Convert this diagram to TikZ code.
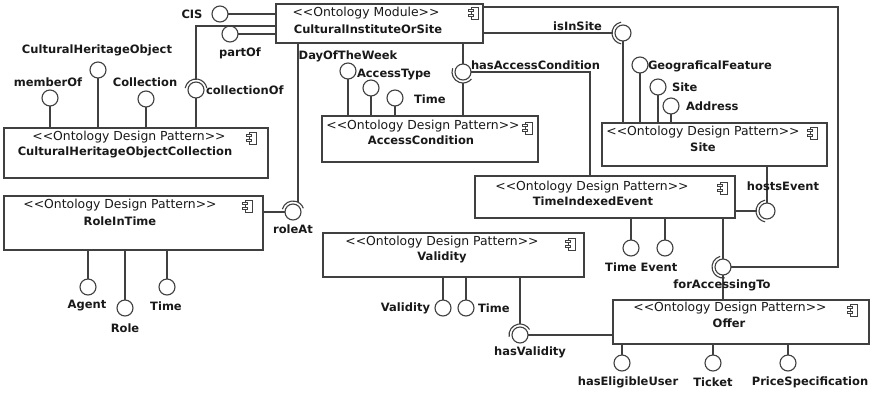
\documentclass[tikz,border=0pt]{standalone}
\usepackage{fontspec}
\setmainfont{DejaVu Sans}
\definecolor{lc}{RGB}{64,64,64}
\definecolor{tc}{RGB}{25,25,25}
\newcommand{\stereo}[1]{<\kern0pt<#1>\kern0pt>}
\tikzset{
  compicon/.pic={
    \draw[lc, line width=0.8pt, fill=white] (-3,-6) rectangle (4,6);
    \draw[lc, line width=0.8pt, fill=white] (-5.5,-3.8) rectangle (-1,-1.6);
    \draw[lc, line width=0.8pt, fill=white] (-5.5,1.6) rectangle (-1,3.8);
  }
}
\begin{document}
\begin{tikzpicture}[x=1pt,y=-1pt,
  every node/.style={inner sep=0pt, outer sep=0pt},
  box/.style={draw=lc, fill=white, line width=1.1pt, anchor=north west},
  ball/.style={circle, draw=lc, fill=white, minimum size=16pt, line width=1.1pt},
  lbl/.style={font=\bfseries\fontsize{11.5}{13}\selectfont, text=tc},
  ster/.style={font=\fontsize{12.4}{14}\selectfont, text=tc},
  nm/.style={font=\bfseries\fontsize{11.5}{13}\selectfont, text=tc},
  conn/.style={draw=lc, line width=1.1pt},
  sock/.style={draw=lc, line width=1.1pt},
]
\useasboundingbox[fill=white] (0,0) rectangle (873,392);

% ---------- boxes ----------
\node[box, minimum width=207pt, minimum height=39pt] (cios) at (276,4) {};
\node[box, minimum width=264pt, minimum height=50pt] (choc) at (4,128) {};
\node[box, minimum width=216pt, minimum height=46pt] (ac) at (322,116) {};
\node[box, minimum width=225pt, minimum height=43pt] (site) at (602,123) {};
\node[box, minimum width=259pt, minimum height=54pt] (rit) at (4,196) {};
\node[box, minimum width=260pt, minimum height=42pt] (tie) at (475,176) {};
\node[box, minimum width=261pt, minimum height=44pt] (val) at (323,233) {};
\node[box, minimum width=256pt, minimum height=44pt] (offer) at (613,300) {};

% ---------- box texts ----------
\node[ster] (ciosS) at (366,13) {\stereo{Ontology Module}};
\node[nm] (ciosN) at (368,29) {CulturalInstituteOrSite};
\node[ster] (chocS) at (129,137) {\stereo{Ontology Design Pattern}};
\node[nm] (chocN) at (125,152) {CulturalHeritageObjectCollection};
\node[ster] (acS) at (423,126) {\stereo{Ontology Design Pattern}};
\node[nm] (acN) at (421,140) {AccessCondition};
\node[ster] (siteS) at (703,132) {\stereo{Ontology Design Pattern}};
\node[nm] (siteN) at (703,147) {Site};
\node[ster] (ritS) at (120,205) {\stereo{Ontology Design Pattern}};
\node[nm] (ritN) at (120,221) {RoleInTime};
\node[ster] (tieS) at (592,187) {\stereo{Ontology Design Pattern}};
\node[nm] (tieN) at (593,201) {TimeIndexedEvent};
\node[ster] (valS) at (442,242) {\stereo{Ontology Design Pattern}};
\node[nm] (valN) at (442,257) {Validity};
\node[ster] (offerS) at (730,308) {\stereo{Ontology Design Pattern}};
\node[nm] (offerN) at (729,323) {Offer};

% ---------- component icons ----------
\pic at (474,13) {compicon};
\pic at (252,138) {compicon};
\pic at (528,128) {compicon};
\pic at (813,133) {compicon};
\pic at (248,206) {compicon};
\pic at (723,188) {compicon};
\pic at (571,244) {compicon};
\pic at (853,310) {compicon};

% ---------- balls ----------
\node[ball] (bCis) at (220,14) {};
\node[ball] (bPart) at (230,34) {};
\node[ball] (bMember) at (50,98) {};
\node[ball] (bCho) at (98,70) {};
\node[ball] (bCollection) at (146,99) {};
\node[ball] (bCollOf) at (196,90) {};
\node[ball] (bDotw) at (348,71) {};
\node[ball] (bAt) at (371,88) {};
\node[ball] (bTimeA) at (395,98) {};
\node[ball] (bHac) at (463,72) {};
\node[ball] (bIis) at (623,33) {};
\node[ball] (bGeo) at (640,65) {};
\node[ball] (bSite) at (658,87) {};
\node[ball] (bAddr) at (671,106) {};
\node[ball] (bHe) at (767,211) {};
\node[ball] (bTimeT) at (631,248) {};
\node[ball] (bEvent) at (665,248) {};
\node[ball] (bFat) at (723,267) {};
\node[ball] (bHeu) at (622,363) {};
\node[ball] (bTicket) at (713,363) {};
\node[ball] (bPrice) at (788,363) {};
\node[ball] (bVal) at (443,308) {};
\node[ball] (bTimeV) at (466,308) {};
\node[ball] (bHv) at (520,335) {};
\node[ball] (bAgent) at (88,287) {};
\node[ball] (bRole) at (125,308) {};
\node[ball] (bTimeR) at (167,287) {};
\node[ball] (bRa) at (293,212) {};

% ---------- sockets ----------
\draw[sock] ([shift={(170:11pt)}]bCollOf.center) arc[start angle=170, end angle=10, radius=11pt];
\draw[sock] ([shift={(160:11pt)}]bHac.center) arc[start angle=160, end angle=320, radius=11pt];
\draw[sock] ([shift={(100:11pt)}]bIis.center) arc[start angle=100, end angle=260, radius=11pt];
\draw[sock] ([shift={(100:11pt)}]bHe.center) arc[start angle=100, end angle=260, radius=11pt];
\draw[sock] ([shift={(105:11pt)}]bFat.center) arc[start angle=105, end angle=280, radius=11pt];
\draw[sock] ([shift={(190:11pt)}]bHv.center) arc[start angle=190, end angle=30, radius=11pt];
\draw[sock] ([shift={(165:11pt)}]bRa.center) arc[start angle=165, end angle=20, radius=11pt];

% ---------- coordinates for routed connectors ----------
\coordinate (kColl) at (196,26);
\coordinate (kHac) at (590,72);
\coordinate (kTop) at (838,7);
\coordinate (kRa) at ([shift={(63:11pt)}]bRa.center);

% ---------- connectors ----------
% CulturalInstituteOrSite
\draw[conn] (bCis) -- (bCis -| cios.west);
\draw[conn] (bPart) -- (bPart -| cios.west);
\draw[conn] (kColl -| cios.west) -- (kColl) -- ([shift={(90:11pt)}]bCollOf.center);
\draw[conn] (kRa |- cios.south) -- (kRa);
\draw[conn] (bHac |- cios.south) -- (bHac);
\draw[conn] (bIis -| cios.east) -- ([shift={(180:11pt)}]bIis.center);
\draw[conn] (kTop -| cios.east) -- (kTop) -- (kTop |- bFat) -- (bFat);
% CulturalHeritageObjectCollection
\draw[conn] (bMember) -- (bMember |- choc.north);
\draw[conn] (bCho) -- (bCho |- choc.north);
\draw[conn] (bCollection) -- (bCollection |- choc.north);
\draw[conn] (bCollOf) -- (bCollOf |- choc.north);
% AccessCondition
\draw[conn] (bDotw) -- (bDotw |- ac.north);
\draw[conn] (bAt) -- (bAt |- ac.north);
\draw[conn] (bTimeA) -- (bTimeA |- ac.north);
\draw[conn] (bHac |- ac.north) -- ([shift={(270:11pt)}]bHac.center);
% TimeIndexedEvent
\draw[conn] (bHac) -- (kHac) -- (kHac |- tie.north);
\draw[conn] (bHe -| tie.east) -- ([shift={(180:11pt)}]bHe.center);
\draw[conn] (bTimeT) -- (bTimeT |- tie.south);
\draw[conn] (bEvent) -- (bEvent |- tie.south);
\draw[conn] (bFat |- tie.south) -- (bFat);
% Site
\draw[conn] (bIis) -- (bIis |- site.north);
\draw[conn] (bGeo) -- (bGeo |- site.north);
\draw[conn] (bSite) -- (bSite |- site.north);
\draw[conn] (bAddr) -- (bAddr |- site.north);
\draw[conn] (bHe |- site.south) -- (bHe);
% Offer
\draw[conn] (bFat |- offer.north) -- (bFat);
\draw[conn] (bHeu) -- (bHeu |- offer.south);
\draw[conn] (bTicket) -- (bTicket |- offer.south);
\draw[conn] (bPrice) -- (bPrice |- offer.south);
\draw[conn] (bHv) -- (bHv -| offer.west);
% Validity
\draw[conn] (bVal) -- (bVal |- val.south);
\draw[conn] (bTimeV) -- (bTimeV |- val.south);
\draw[conn] (bHv |- val.south) -- ([shift={(90:11pt)}]bHv.center);
% RoleInTime
\draw[conn] (bAgent) -- (bAgent |- rit.south);
\draw[conn] (bRole) -- (bRole |- rit.south);
\draw[conn] (bTimeR) -- (bTimeR |- rit.south);
\draw[conn] (bRa -| rit.east) -- (bRa);

% ---------- labels ----------
\node[lbl] (lCis) at (192,14) {CIS};
\node[lbl] (lPart) at (240,53) {partOf};
\node[lbl] (lMember) at (48,82) {memberOf};
\node[lbl] (lCho) at (97,50) {CulturalHeritageObject};
\node[lbl] (lColl) at (145,82) {Collection};
\node[lbl, anchor=west] (lCollOf) at (206,90) {collectionOf};
\node[lbl] (lDotw) at (348,56) {DayOfTheWeek};
\node[lbl, anchor=west] (lAt) at (357,75) {AccessType};
\node[lbl, anchor=west] (lTimeA) at (414,99) {Time};
\node[lbl, anchor=west] (lHac) at (471,65) {hasAccessCondition};
\node[lbl, anchor=east] (lIis) at (602,26) {isInSite};
\node[lbl, anchor=west] (lGeo) at (648,66) {GeograficalFeature};
\node[lbl, anchor=west] (lSite) at (672,87) {Site};
\node[lbl, anchor=west] (lAddr) at (686,106) {Address};
\node[lbl] (lHe) at (783,186) {hostsEvent};
\node[lbl] (lTimeT) at (621,267) {Time};
\node[lbl] (lEvent) at (659,267) {Event};
\node[lbl] (lFat) at (722,285) {forAccessingTo};
\node[lbl] (lHeu) at (628,382) {hasEligibleUser};
\node[lbl] (lTicket) at (713,382) {Ticket};
\node[lbl] (lPrice) at (810,382) {PriceSpecification};
\node[lbl, anchor=east] (lVal) at (430,308) {Validity};
\node[lbl, anchor=west] (lTimeV) at (478,308) {Time};
\node[lbl] (lHv) at (530,352) {hasValidity};
\node[lbl] (lAgent) at (87,306) {Agent};
\node[lbl] (lRole) at (125,328) {Role};
\node[lbl] (lTimeR) at (166,306) {Time};
\node[lbl] (lRa) at (293,229) {roleAt};
\end{tikzpicture}
\end{document}
